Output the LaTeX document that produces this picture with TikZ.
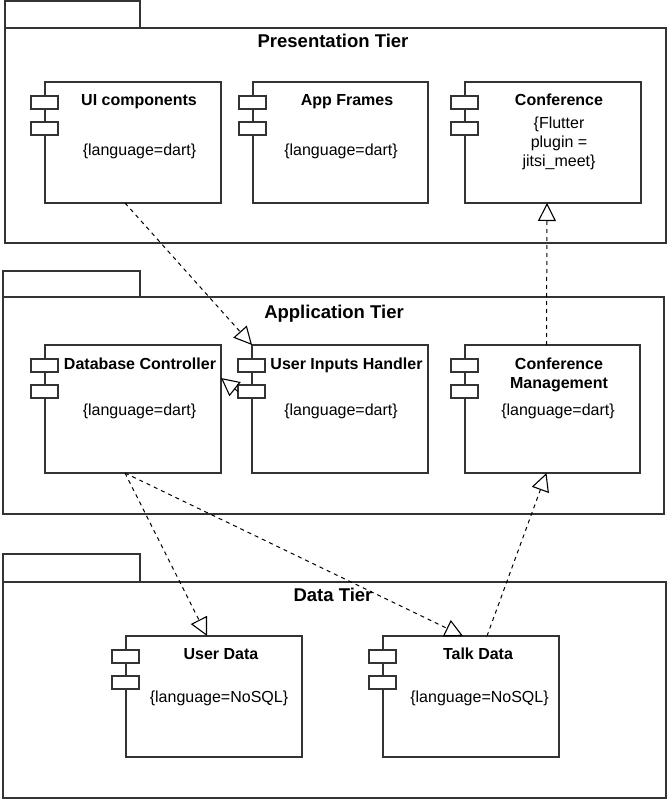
\documentclass[tikz,border=0pt]{standalone}
\usepackage{fontspec}
\setmainfont{Liberation Sans}
\usetikzlibrary{arrows.meta}
\newcommand\mycomp[5]{%
  \node[comp, minimum width=#4pt, minimum height=#5pt] (#1) at (#2,#3) {};
  \node[port] (#1p1) at ([xshift=-14pt,yshift=-14pt]#1.north west) {};
  \node[port] (#1p2) at ([xshift=-14pt,yshift=-40pt]#1.north west) {};
}
\begin{document}
\begin{tikzpicture}[x=1pt,y=1pt,
  pkg/.style={draw=black!80, line width=1.2pt},
  comp/.style={draw=black!80, line width=1.2pt, fill=white, rectangle, inner sep=0pt, outer sep=0pt, anchor=north west},
  port/.style={draw=black!80, line width=1.2pt, fill=white, rectangle, inner sep=0pt, outer sep=0pt, minimum width=27pt, minimum height=13pt, anchor=north west},
  tier/.style={font=\fontsize{18.5}{22}\selectfont\bfseries, anchor=base, inner sep=0pt},
  ctitle/.style={font=\fontsize{16}{19}\selectfont\bfseries, anchor=base, inner sep=0pt},
  ctext/.style={font=\fontsize{16}{19}\selectfont, anchor=base, inner sep=0pt},
  dep/.style={draw=black, line width=1pt, dash pattern=on 4pt off 4pt,
    -{Triangle[open, length=18pt, width=18pt, line width=1.1pt]}}
]
\useasboundingbox (0,0) rectangle (671,-802);
\fill[white] (0,0) rectangle (671,-802);

% packages
\draw[pkg] (5,-1) rectangle (140,-28);
\draw[pkg] (5,-28) rectangle (666,-243);
\draw[pkg] (3,-271) rectangle (140,-297);
\draw[pkg] (3,-297) rectangle (664,-514);
\draw[pkg] (3,-554) rectangle (140,-582);
\draw[pkg] (3,-582) rectangle (666,-798);

\node[tier] (tp) at (333,-48) {Presentation Tier};
\node[tier] (ta) at (334,-318) {Application Tier};
\node[tier] (td0) at (333,-601) {Data Tier};

% components
\mycomp{ui}{45}{-82}{176}{121}
\mycomp{af}{253}{-82}{175}{121}
\mycomp{conf}{465}{-82}{176}{121}
\mycomp{db}{45}{-345}{176}{128}
\mycomp{uih}{252}{-345}{176}{128}
\mycomp{cm}{465}{-345}{175}{128}
\mycomp{ud}{126}{-636}{176}{121}
\mycomp{td}{383}{-636}{176}{121}

\node[ctitle] (uit) at (139,-106) {UI components};
\node[ctext] (uil) at (139.5,-155.5) {\{language=dart\}};
\node[ctitle] (aft) at (347,-106) {App Frames};
\node[ctext] (afl) at (341,-155.5) {\{language=dart\}};
\node[ctitle] (conft) at (559,-106) {Conference};
\node[ctext] (confl1) at (559,-128.5) {\{Flutter};
\node[ctext] (confl2) at (559,-147.5) {plugin =};
\node[ctext] (confl3) at (559,-166.5) {jitsi\_meet\}};

\node[ctitle] (dbt) at (140,-369) {Database Controller};
\node[ctext] (dbl) at (139.5,-415.5) {\{language=dart\}};
\node[ctitle] (uiht) at (346.5,-369) {User Inputs Handler};
\node[ctext] (uihl) at (341,-415.5) {\{language=dart\}};
\node[ctitle] (cmt1) at (559,-369) {Conference};
\node[ctitle] (cmt2) at (559,-388) {Management};
\node[ctext] (cml) at (558,-415.5) {\{language=dart\}};

\node[ctitle] (udt) at (221,-659) {User Data};
\node[ctext] (udl) at (219,-702.5) {\{language=NoSQL\}};
\node[ctitle] (tdt) at (478,-659) {Talk Data};
\node[ctext] (tdl) at (479.5,-702.5) {\{language=NoSQL\}};

% connectors
\draw[dep] ([xshift=-8pt]ui.south) -- (uih.north west);
\draw[dep] (uihp2.west) -- ([yshift=31pt]db.east);
\draw[dep] ([xshift=-6pt]cm.north) -- ([xshift=-6pt]conf.south);
\draw[dep] ([xshift=-8pt]db.south) -- ([xshift=-7pt]ud.north);
\draw[dep] ([xshift=-8pt]db.south) -- ([xshift=-8pt]td.north);
\draw[dep] ([xshift=16pt]td.north) -- ([xshift=-6pt]cm.south);
\end{tikzpicture}
\end{document}
